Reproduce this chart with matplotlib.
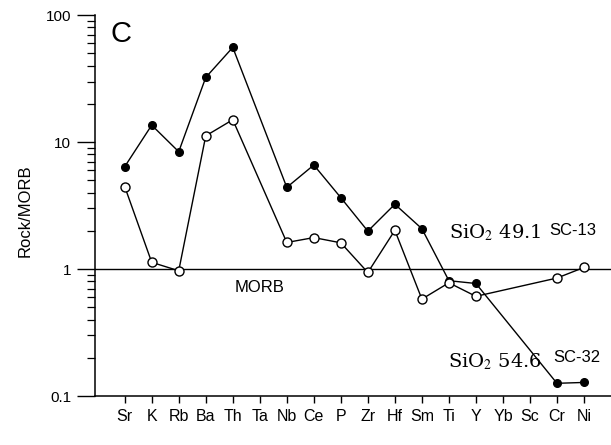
import matplotlib

matplotlib.use('Agg')

import numpy as np

import matplotlib.pyplot as plt

plt.rcParams['font.family'] = ['Liberation Sans', 'DejaVu Sans']
plt.rcParams['mathtext.fontset'] = 'stix'

elements = ['Sr', 'K', 'Rb', 'Ba', 'Th', 'Ta', 'Nb', 'Ce', 'P', 'Zr',
            'Hf', 'Sm', 'Ti', 'Y', 'Yb', 'Sc', 'Cr', 'Ni']

# SC-32 (SiO2 54.6), filled symbols; None = not analysed
sc32 = [6.4, 13.6, 8.4, 32.3, 55.7, None, 4.4, 6.6, 3.65, 1.99,
        3.24, 2.08, 0.81, 0.77, None, None, 0.126, 0.128]

# SC-13 (SiO2 49.1), open symbols
sc13 = [4.47, 1.13, 0.97, 11.2, 15.0, None, 1.62, 1.77, 1.61, 0.94,
        2.02, 0.58, 0.78, 0.61, None, None, 0.85, 1.03]

x = np.arange(len(elements))


def series(vals):
    xs = [i for i, v in zip(x, vals) if v is not None]
    ys = [v for v in vals if v is not None]
    return np.array(xs), np.array(ys)


fig = plt.figure(figsize=(6.11, 4.45), dpi=100)
ax = fig.add_axes([0.155, 0.11, 0.845, 0.856])

ax.axhline(1, color='black', lw=1.0, zorder=1)

x1, y1 = series(sc32)
ax.plot(x1, y1, color='black', lw=1.0, marker='o', ms=5.5,
        mfc='black', mec='black', zorder=3)

x2, y2 = series(sc13)
ax.plot(x2, y2, color='black', lw=1.0, marker='o', ms=6.5,
        mfc='white', mec='black', mew=1.0, zorder=4)

ax.set_yscale('log')
ax.set_ylim(0.1, 100)
ax.set_xlim(-1.11, 18.0)

ax.set_yticks([0.1, 1, 10, 100])
ax.set_yticklabels(['0.1', '1', '10', '100'], fontsize=11)
ax.tick_params(axis='y', which='major', direction='out', length=13, width=1, pad=4)
ax.tick_params(axis='y', which='minor', direction='out', length=6, width=0.9)

ax.set_xticks(x)
ax.set_xticklabels(elements, fontsize=11.5)
ax.tick_params(axis='x', which='major', direction='out', length=5, width=1, pad=4)
ax.tick_params(axis='x', which='minor', bottom=False)

for s in ['top', 'right']:
    ax.spines[s].set_visible(False)
for s in ['left', 'bottom']:
    ax.spines[s].set_linewidth(1.1)

ax.text(0.03, 0.95, 'C', transform=ax.transAxes, fontsize=21,
        ha='left', va='center')

ax.text(5.0, 0.72, 'MORB', fontsize=12, ha='center', va='center')

ax.text(12.0, 1.95, 'SiO$_2$ 49.1', fontsize=14, family='serif',
        ha='left', va='center')
ax.text(16.6, 2.0, 'SC-13', fontsize=12, ha='center', va='center')

ax.text(11.95, 0.185, 'SiO$_2$ 54.6', fontsize=14, family='serif',
        ha='left', va='center')
ax.text(16.75, 0.2, 'SC-32', fontsize=12, ha='center', va='center')

fig.text(0.041, 0.526, 'Rock/MORB', rotation=90, fontsize=12,
         ha='center', va='center')

fig.savefig('out.png', dpi=100)
